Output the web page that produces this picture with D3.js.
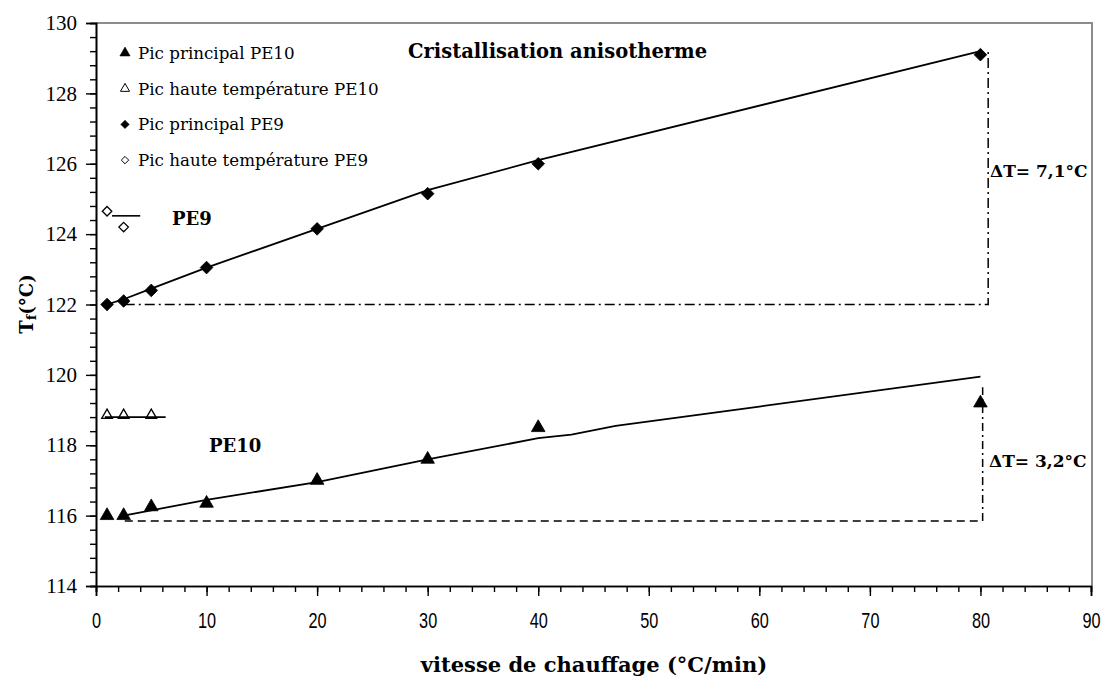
<!DOCTYPE html>
<html>
<head>
<meta charset="utf-8">
<script src="https://cdn.jsdelivr.net/npm/d3@7/dist/d3.min.js"></script>
<style>
  html, body { margin: 0; padding: 0; background: #fff; }
  svg { display: block; }
</style>
</head>
<body>
<svg id="chart" width="1104" height="681"></svg>
<script>
// Heating rates (°C/min) and melting temperatures Tf (°C)
const rates = [1, 2.5, 5, 10, 20, 30, 40, 80];
const pe10Main = [116.0, 116.0, 116.25, 116.35, 117.0, 117.6, 118.5, 119.2];
const pe9Main = [122.0, 122.1, 122.4, 123.05, 124.15, 125.15, 126.0, 129.1];

const pe10HighRates = [1, 2.5, 5];
const pe10High = [118.85, 118.85, 118.85];
const pe9HighRates = [1, 2.5];
const pe9High = [124.65, 124.2];

// Trend curves drawn through the main peaks
const pe9TrendRates = [1, 2.5, 5, 10, 20, 30, 40, 80];
const pe9Trend = [122.0, 122.15, 122.45, 123.05, 124.15, 125.25, 126.1, 129.2];
const pe10TrendRates = [2.5, 5, 10, 20, 30, 40, 43, 47, 60, 80];
const pe10Trend = [116.0, 116.15, 116.45, 116.95, 117.6, 118.2, 118.3, 118.55, 119.1, 119.95];

// Short mean lines for the high-temperature peaks
const pe9HighLineRates = [1.45, 4.0];
const pe9HighLine = [124.52, 124.52];
const pe10HighLineRates = [0.8, 6.3];
const pe10HighLine = [118.8, 118.8];

// ΔT guides: baseline at the slowest rate, riser at the fastest rate
const pe9GuideRates = [2.6, 80.7, 80.7];
const pe9Guide = [122.0, 122.0, 129.2];
const pe10GuideRates = [2.6, 80.2];
const pe10Guide = [115.85, 115.85];
const pe10RiserRates = [80.2, 80.2];
const pe10Riser = [115.85, 119.65];

const xTicks = [0, 10, 20, 30, 40, 50, 60, 70, 80, 90];
const yTicks = [114, 116, 118, 120, 122, 124, 126, 128, 130];

const legendLabels = [
  "Pic principal PE10",
  "Pic haute température PE10",
  "Pic principal PE9",
  "Pic haute température PE9"
];

const svg = d3.select("#chart");
const x = d3.scaleLinear().domain([0, 90]).range([96, 1091]);
const y = d3.scaleLinear().domain([114, 130]).range([586, 23]);

const serif = "'DejaVu Serif', serif";
const timesLike = "'Liberation Serif', 'Times New Roman', serif";

// Plot frame (top and right edges)
svg.append("path")
  .attr("d", `M${x(0)},${y(130)}H${x(90) + 1}V${y(114)}`)
  .attr("fill", "none").attr("stroke", "#8c8c8c").attr("stroke-width", 2);

// X axis: minor ticks every 2, major every 10
const xMinor = svg.append("g").attr("transform", `translate(0,${y(114)})`)
  .call(d3.axisBottom(x).tickValues(d3.range(0, 91, 2)).tickSize(6).tickFormat(""));
const xMajor = svg.append("g").attr("transform", `translate(0,${y(114)})`)
  .call(d3.axisBottom(x).tickValues(xTicks).tickSize(10).tickPadding(16).tickFormat(d3.format("d")));
[xMinor, xMajor].forEach(g => {
  g.select(".domain").attr("stroke", "#000").attr("stroke-width", 1.6);
  g.selectAll(".tick line").attr("stroke", "#000").attr("stroke-width", 1.4);
});
// Tall, condensed digits under the x axis
xMajor.selectAll(".tick text")
  .style("font-family", "'Liberation Sans', Arial, sans-serif")
  .style("font-size", "22px").attr("fill", "#000")
  .attr("transform", "scale(0.74,1)");

// Y axis: minor ticks every 0.4, major every 2
const yMinor = svg.append("g").attr("transform", `translate(${x(0)},0)`)
  .call(d3.axisLeft(y).tickValues(d3.range(0, 41).map(i => 114 + i * 0.4)).tickSize(6).tickFormat(""));
const yMajor = svg.append("g").attr("transform", `translate(${x(0)},0)`)
  .call(d3.axisLeft(y).tickValues(yTicks).tickSize(10).tickPadding(9).tickFormat(d3.format("d")));
[yMinor, yMajor].forEach(g => {
  g.select(".domain").attr("stroke", "#000").attr("stroke-width", 1.6);
  g.selectAll(".tick line").attr("stroke", "#000").attr("stroke-width", 1.4);
});
yMajor.selectAll(".tick text")
  .style("font-family", timesLike).style("font-size", "21px").attr("fill", "#000");

// Axis titles
svg.append("text")
  .attr("x", 594).attr("y", 672)
  .attr("text-anchor", "middle")
  .attr("font-family", serif).attr("font-weight", "bold").attr("font-size", 21)
  .text("vitesse de chauffage (°C/min)");

const yTitle = svg.append("text")
  .attr("transform", "translate(33,304) rotate(-90)")
  .attr("text-anchor", "middle")
  .attr("font-family", serif).attr("font-weight", "bold").attr("font-size", 18);
yTitle.append("tspan").text("T");
yTitle.append("tspan").attr("font-size", 13).attr("dy", 3).text("f");
yTitle.append("tspan").attr("dy", -3).text("(°C)");

// Chart title
svg.append("text")
  .attr("x", 408).attr("y", 58)
  .attr("font-family", serif).attr("font-weight", "bold").attr("font-size", 19.5)
  .text("Cristallisation anisotherme");

const zip = (xs, ys) => xs.map((v, i) => [v, ys[i]]);
const line = d3.line().x(d => x(d[0])).y(d => y(d[1]));

function drawLine(xs, ys, dash, width) {
  svg.append("path")
    .attr("d", line(zip(xs, ys)))
    .attr("fill", "none").attr("stroke", "#000")
    .attr("stroke-width", width)
    .attr("stroke-dasharray", dash || null);
}

// ΔT guides
drawLine(pe9GuideRates, pe9Guide, "10,4,2,4", 1.5);
drawLine(pe10GuideRates, pe10Guide, "8,5", 1.5);
drawLine(pe10RiserRates, pe10Riser, "8,4,2,4", 1.5);

// Trend curves
drawLine(pe9TrendRates, pe9Trend, null, 1.8);
drawLine(pe10TrendRates, pe10Trend, null, 1.8);

// Square diamond marker
const diamond = {
  draw(ctx, size) {
    const r = Math.sqrt(size) / 2;
    ctx.moveTo(0, -r); ctx.lineTo(r, 0); ctx.lineTo(0, r); ctx.lineTo(-r, 0); ctx.closePath();
  }
};

function drawMarkers(xs, ys, type, size, filled) {
  svg.append("g").selectAll("path")
    .data(zip(xs, ys)).join("path")
    .attr("transform", d => `translate(${x(d[0])},${y(d[1])})`)
    .attr("d", d3.symbol().type(type).size(size))
    .attr("fill", filled ? "#000" : "#fff")
    .attr("stroke", "#000").attr("stroke-width", filled ? 0.8 : 1.3);
}

drawMarkers(rates, pe9Main, diamond, 160, true);
drawMarkers(rates, pe10Main, d3.symbolTriangle, 80, true);
drawMarkers(pe9HighRates, pe9High, diamond, 90, false);
drawMarkers(pe10HighRates, pe10High, d3.symbolTriangle, 50, false);

// Mean lines of the high-temperature peaks
drawLine(pe9HighLineRates, pe9HighLine, null, 1.6);
drawLine(pe10HighLineRates, pe10HighLine, null, 1.6);

// Series labels
svg.append("text").attr("x", 172).attr("y", 225)
  .attr("font-family", serif).attr("font-weight", "bold").attr("font-size", 18).text("PE9");
svg.append("text").attr("x", 209).attr("y", 452)
  .attr("font-family", serif).attr("font-weight", "bold").attr("font-size", 18).text("PE10");

// ΔT annotations
svg.append("text").attr("x", 990).attr("y", 177)
  .attr("font-family", serif).attr("font-weight", "bold").attr("font-size", 17).text("ΔT= 7,1°C");
svg.append("text").attr("x", 989).attr("y", 467)
  .attr("font-family", serif).attr("font-weight", "bold").attr("font-size", 17).text("ΔT= 3,2°C");

// Legend
const legendTypes = [
  [d3.symbolTriangle, true, 45],
  [d3.symbolTriangle, false, 36],
  [diamond, true, 70],
  [diamond, false, 55]
];
const legend = svg.append("g");
legendLabels.forEach((lab, i) => {
  const base = 59 + i * 35.7;
  const [type, filled, size] = legendTypes[i];
  legend.append("path")
    .attr("transform", `translate(125,${base - 6})`)
    .attr("d", d3.symbol().type(type).size(size))
    .attr("fill", filled ? "#000" : "#fff")
    .attr("stroke", "#000").attr("stroke-width", filled ? 0.6 : 1);
  legend.append("text").attr("x", 138).attr("y", base)
    .attr("font-family", serif).attr("font-size", 16.7).text(lab);
});
</script>
</body>
</html>
